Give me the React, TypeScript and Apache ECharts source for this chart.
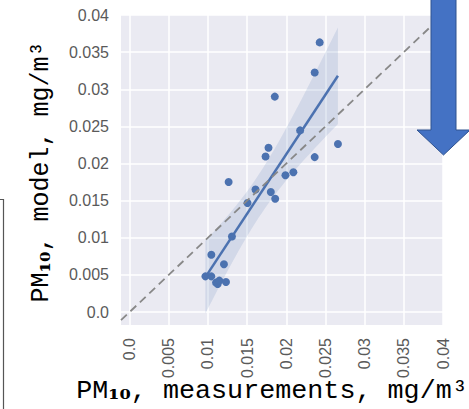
import React, { useEffect, useRef } from "react";
import * as echarts from "echarts";

// PM10 measurements (x) and model (y), mg/m3
const measured = [
  0.00967, 0.01043, 0.01103, 0.01124, 0.01145, 0.0123, 0.01204, 0.01043,
  0.01306, 0.01505, 0.01607, 0.01802, 0.01858, 0.01264, 0.01989, 0.0209,
  0.01735, 0.01773, 0.02362, 0.02176, 0.02659, 0.01853, 0.02362, 0.02426,
];
const modelled = [
  0.0048, 0.0048, 0.00396, 0.00378, 0.00423, 0.00405, 0.00644, 0.0077,
  0.01018, 0.01469, 0.01649, 0.01617, 0.01525, 0.0175, 0.01842, 0.01883,
  0.02095, 0.02212, 0.02086, 0.02446, 0.02263, 0.02901, 0.03225, 0.03631,
];
const tickStep = 0.005;
const tickLabels = ["0.0", "0.005", "0.01", "0.015", "0.02", "0.025", "0.03", "0.035", "0.04"];
const titleHead = "PM";
const titleSub = "₁₀";
const xTitleTail = ", measurements, mg/m³";
const yTitleTail = ", model, mg/m³";

function regression() {
  const n = measured.length;
  const mx = measured.reduce((a, b) => a + b, 0) / n;
  const my = modelled.reduce((a, b) => a + b, 0) / n;
  let sxx = 0, sxy = 0;
  for (let i = 0; i < n; i++) {
    sxx += (measured[i] - mx) ** 2;
    sxy += (measured[i] - mx) * (modelled[i] - my);
  }
  const b = sxy / sxx;
  const a = my - b * mx;
  let sse = 0;
  for (let i = 0; i < n; i++) sse += (modelled[i] - a - b * measured[i]) ** 2;
  const s = Math.sqrt(sse / (n - 2));
  const t = 2.9; // widened to approximate the bootstrapped band
  const x0 = Math.min(...measured);
  const x1 = Math.max(...measured);
  const steps = 40;
  const upper: number[][] = [];
  const lower: number[][] = [];
  for (let k = 0; k <= steps; k++) {
    const x = x0 + ((x1 - x0) * k) / steps;
    const yh = a + b * x;
    const se = s * Math.sqrt(1 / n + (x - mx) ** 2 / sxx);
    upper.push([x, yh + t * se]);
    lower.push([x, yh - t * se]);
  }
  return { line: [[x0, a + b * x0], [x1, a + b * x1]], band: upper.concat(lower.reverse()) };
}

const fmt = (v: number) => {
  const k = Math.round(v / tickStep);
  if (Math.abs(v - k * tickStep) > 1e-9 || k < 0) return "";
  return tickLabels[k] ?? "";
};

const titleRich = {
  a: { fontFamily: "'Liberation Mono', 'DejaVu Sans Mono', monospace", fontSize: 25, color: "#1a1a1a" },
  s: { fontFamily: "'DejaVu Serif', serif", fontSize: 24, color: "#1a1a1a", fontWeight: "bold" },
};

export default function App() {
  const ref = useRef<HTMLDivElement>(null);
  useEffect(() => {
    if (!ref.current) return;
    const chart = echarts.init(ref.current, null, { renderer: "svg" });
    const reg = regression();
    const blue = "#4C72B0";
    const labelStyle = { color: "#5a5a5a", fontSize: 16, fontFamily: "Liberation Sans, Arial, sans-serif" };
    chart.setOption({
      animation: false,
      backgroundColor: "#ffffff",
      grid: {
        left: 121, right: 26, top: 15, bottom: 84,
        show: true, backgroundColor: "#EAEAF2", borderWidth: 0,
      },
      xAxis: {
        type: "value", min: -0.0011, max: 0.04, splitNumber: 8,
        axisLine: { show: false }, axisTick: { show: false },
        splitLine: { show: true, showMinLine: false, lineStyle: { color: "#ffffff", width: 1.5 } },
        axisLabel: { ...labelStyle, rotate: 90, margin: 13, showMinLabel: false, formatter: fmt },
      },
      yAxis: {
        type: "value", min: -0.00175, max: 0.04, splitNumber: 8,
        axisLine: { show: false }, axisTick: { show: false },
        splitLine: { show: true, showMinLine: false, lineStyle: { color: "#ffffff", width: 1.5 } },
        axisLabel: { ...labelStyle, margin: 12, showMinLabel: false, formatter: fmt },
      },
      series: [
        {
          type: "scatter", z: 2,
          data: measured.map((x, i) => [x, modelled[i]]),
          symbolSize: 8, itemStyle: { color: blue, opacity: 1 },
        },
        {
          type: "custom", z: 3, clip: true,
          data: [[0, 0]],
          renderItem: (_p: any, api: any) => ({
            type: "polygon",
            shape: { points: reg.band.map((pt) => api.coord(pt)) },
            style: { fill: "rgba(76,114,176,0.15)", stroke: "none" },
          }),
          silent: true,
        },
        {
          type: "line", z: 4, data: reg.line, symbol: "none",
          lineStyle: { color: blue, width: 2.5 }, silent: true,
        },
        {
          type: "line", z: 5, data: [[-0.0011, -0.0011], [0.04, 0.04]], symbol: "none",
          lineStyle: { color: "#888", width: 1.8, type: [8, 5] }, silent: true, clip: true,
        },
      ],
      graphic: [
        {
          type: "polyline", z: 100,
          shape: { points: [[0, 199.5], [3.5, 199.5], [3.5, 410]] },
          style: { stroke: "#555", lineWidth: 1.2, fill: "none" },
        },
        {
          type: "polygon", z: 100,
          shape: { points: [[431, -2], [456, -2], [456, 130], [470, 130], [443.5, 155], [417, 130], [431, 130]] },
          style: { fill: "#4472C4", stroke: "#2F528F", lineWidth: 1 },
        },
        {
          type: "text", z: 100, x: 272, y: 391, scaleX: 1.07,
          style: {
            text: `{a|${titleHead}}{s|${titleSub}}{a|${xTitleTail}}`, rich: titleRich,
            align: "center", verticalAlign: "middle",
          },
        },
        {
          type: "text", z: 100, x: 41, y: 172, rotation: Math.PI / 2,
          style: {
            text: `{a|${titleHead}}{s|${titleSub}}{a|${yTitleTail}}`, rich: titleRich,
            align: "center", verticalAlign: "middle",
          },
        },
      ],
    });
    return () => chart.dispose();
  }, []);
  return <div ref={ref} style={{ position: "fixed", left: 0, top: 0, width: 469, height: 409 }} />;
}
